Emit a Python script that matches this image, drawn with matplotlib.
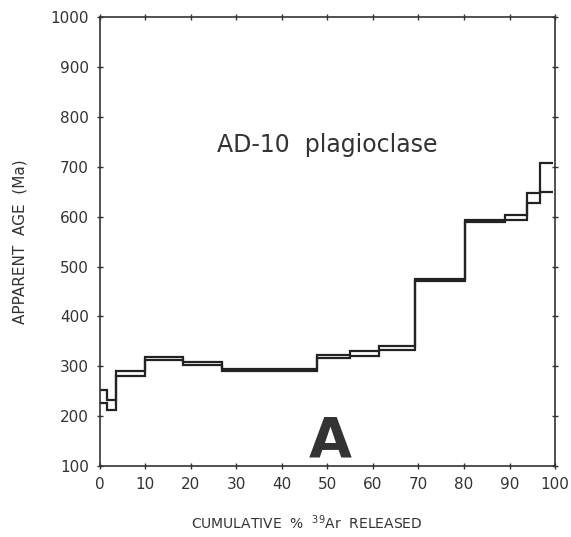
# -*- coding: utf-8 -*-

import matplotlib.pyplot as plt

# step edges (cumulative % 39Ar released) and the two bounds of each step (Ma)
edges = [0, 1.5, 3.5, 9.9, 18.2, 26.8, 47.8, 55.0, 61.4, 69.2, 80.2, 89.0, 93.8, 96.7, 99.6]
upper = [252, 232, 291, 318, 308, 294, 322, 330, 340, 476, 593, 603, 648, 708]
lower = [226, 212, 280, 312, 302, 290, 317, 321, 332, 471, 590, 594, 628, 650]

x_ticks = [0, 10, 20, 30, 40, 50, 60, 70, 80, 90, 100]
y_ticks = [100, 200, 300, 400, 500, 600, 700, 800, 900, 1000]


def main():
    fig = plt.figure(figsize=(5.71, 5.37), dpi=100)
    ax = fig.add_axes([0.175, 0.132, 0.797, 0.836])

    ax.stairs(upper, edges, baseline=None, color='#222222', lw=1.6)
    ax.stairs(lower, edges, baseline=None, color='#222222', lw=1.6)

    ax.set_xlim(0, 100)
    ax.set_ylim(100, 1000)
    ax.set_xticks(x_ticks)
    ax.set_yticks(y_ticks)
    ax.tick_params(direction='inout', length=4, width=1, labelsize=11,
                   colors='#333333', top=True, right=True, pad=6)
    for s in ax.spines.values():
        s.set_linewidth(1.2)
        s.set_color('#333333')

    ax.text(50, 743, 'AD-10  plagioclase', ha='center', va='center',
            fontsize=17, color='#333333')
    ax.text(50.5, 150, 'A', ha='center', va='center', fontsize=40,
            fontweight='bold', color='#333333')

    ax.set_ylabel('APPARENT  AGE  (Ma)', fontsize=11, color='#333333')
    ax.yaxis.set_label_coords(-0.16, 0.5)
    ax.set_xlabel(r'CUMULATIVE  %  $^{39}$Ar  RELEASED', fontsize=10,
                  color='#333333')
    ax.xaxis.set_label_coords(0.455, -0.105)

    fig.savefig('out.png', dpi=100)


if __name__ == '__main__':
    main()
